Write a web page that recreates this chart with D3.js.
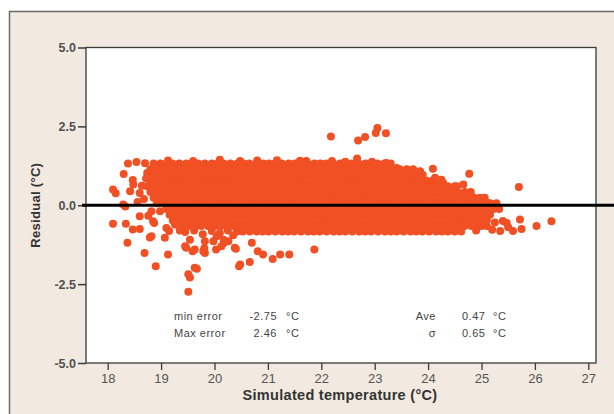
<!DOCTYPE html>
<html>
<head>
<meta charset="utf-8">
<script src="https://cdn.jsdelivr.net/npm/d3@7"></script>
<style>
  body { margin: 0; background: #fff; }
  svg { display: block; }
</style>
</head>
<body>
<div id="chart"></div>
<script>
// dense band: residual of each row and the simulated temperatures read along it
const bandResidual = [1.32, 1.14, 0.96, 0.78, 0.60, 0.42, 0.24, 0.06, -0.12, -0.30, -0.48, -0.66, -0.83]
const bandTemps = [
  [18.86, 18.99, 19.10, 19.21, 19.34, 19.47, 19.58, 19.69, 19.82, 19.95, 20.06, 20.17, 20.30, 20.43, 20.54, 20.65, 20.78, 20.91, 21.02, 21.13, 21.26, 21.39, 21.50, 21.61, 21.74, 21.87, 21.98, 22.09, 22.22, 22.35, 22.46, 22.57, 22.70, 22.83, 22.94, 23.05, 23.18, 23.30],
  [18.80, 18.93, 19.04, 19.15, 19.28, 19.41, 19.52, 19.63, 19.76, 19.89, 20.00, 20.11, 20.24, 20.37, 20.48, 20.59, 20.72, 20.85, 20.96, 21.07, 21.20, 21.33, 21.44, 21.55, 21.68, 21.81, 21.92, 22.03, 22.16, 22.29, 22.40, 22.51, 22.64, 22.77, 22.88, 22.99, 23.12, 23.25, 23.36, 23.47, 23.60, 23.72],
  [18.86, 18.97, 19.10, 19.23, 19.34, 19.45, 19.58, 19.71, 19.82, 19.93, 20.06, 20.19, 20.30, 20.41, 20.54, 20.67, 20.78, 20.89, 21.02, 21.15, 21.26, 21.37, 21.50, 21.63, 21.74, 21.85, 21.98, 22.11, 22.22, 22.33, 22.46, 22.59, 22.70, 22.81, 22.94, 23.07, 23.18, 23.29, 23.42, 23.55, 23.66, 23.77, 23.90],
  [18.80, 18.91, 19.04, 19.17, 19.28, 19.39, 19.52, 19.65, 19.76, 19.87, 20.00, 20.13, 20.24, 20.35, 20.48, 20.61, 20.72, 20.83, 20.96, 21.09, 21.20, 21.31, 21.44, 21.57, 21.68, 21.79, 21.92, 22.05, 22.16, 22.27, 22.40, 22.53, 22.64, 22.75, 22.88, 23.01, 23.12, 23.23, 23.36, 23.49, 23.60, 23.71, 23.84, 23.97, 24.08, 24.20],
  [18.74, 18.87, 18.98, 19.09, 19.22, 19.35, 19.46, 19.57, 19.70, 19.83, 19.94, 20.05, 20.18, 20.31, 20.42, 20.53, 20.66, 20.79, 20.90, 21.01, 21.14, 21.27, 21.38, 21.49, 21.62, 21.75, 21.86, 21.97, 22.10, 22.23, 22.34, 22.45, 22.58, 22.71, 22.82, 22.93, 23.06, 23.19, 23.30, 23.41, 23.54, 23.67, 23.78, 23.89, 24.02, 24.15, 24.26, 24.37, 24.50],
  [18.80, 18.93, 19.04, 19.15, 19.28, 19.41, 19.52, 19.63, 19.76, 19.89, 20.00, 20.11, 20.24, 20.37, 20.48, 20.59, 20.72, 20.85, 20.96, 21.07, 21.20, 21.33, 21.44, 21.55, 21.68, 21.81, 21.92, 22.03, 22.16, 22.29, 22.40, 22.51, 22.64, 22.77, 22.88, 22.99, 23.12, 23.25, 23.36, 23.47, 23.60, 23.73, 23.84, 23.95, 24.08, 24.21, 24.32, 24.43, 24.56, 24.69, 24.80],
  [18.86, 18.97, 19.10, 19.23, 19.34, 19.45, 19.58, 19.71, 19.82, 19.93, 20.06, 20.19, 20.30, 20.41, 20.54, 20.67, 20.78, 20.89, 21.02, 21.15, 21.26, 21.37, 21.50, 21.63, 21.74, 21.85, 21.98, 22.11, 22.22, 22.33, 22.46, 22.59, 22.70, 22.81, 22.94, 23.07, 23.18, 23.29, 23.42, 23.55, 23.66, 23.77, 23.90, 24.03, 24.14, 24.25, 24.38, 24.51, 24.62, 24.73, 24.86, 24.97, 25.06],
  [18.92, 19.05, 19.16, 19.27, 19.40, 19.53, 19.64, 19.75, 19.88, 20.01, 20.12, 20.23, 20.36, 20.49, 20.60, 20.71, 20.84, 20.97, 21.08, 21.19, 21.32, 21.45, 21.56, 21.67, 21.80, 21.93, 22.04, 22.15, 22.28, 22.41, 22.52, 22.63, 22.76, 22.89, 23.00, 23.11, 23.24, 23.37, 23.48, 23.59, 23.72, 23.85, 23.96, 24.07, 24.20, 24.33, 24.44, 24.55, 24.68, 24.81, 24.92, 25.03, 25.16, 25.28],
  [19.10, 19.21, 19.34, 19.47, 19.58, 19.69, 19.82, 19.95, 20.06, 20.17, 20.30, 20.43, 20.54, 20.65, 20.78, 20.91, 21.02, 21.13, 21.26, 21.39, 21.50, 21.61, 21.74, 21.87, 21.98, 22.09, 22.22, 22.35, 22.46, 22.57, 22.70, 22.83, 22.94, 23.05, 23.18, 23.31, 23.42, 23.53, 23.66, 23.79, 23.90, 24.01, 24.14, 24.27, 24.38, 24.49, 24.62, 24.75, 24.86, 24.97, 25.10, 25.22, 25.33],
  [19.16, 19.29, 19.40, 19.51, 19.64, 19.77, 19.88, 19.99, 20.12, 20.25, 20.36, 20.47, 20.60, 20.73, 20.84, 20.95, 21.08, 21.21, 21.32, 21.43, 21.56, 21.69, 21.80, 21.91, 22.04, 22.17, 22.28, 22.39, 22.52, 22.65, 22.76, 22.87, 23.00, 23.13, 23.24, 23.35, 23.48, 23.61, 23.72, 23.83, 23.96, 24.09, 24.20, 24.31, 24.44, 24.57, 24.68, 24.79, 24.92, 25.05, 25.16],
  [19.22, 19.33, 19.46, 19.59, 19.70, 19.81, 19.94, 20.07, 20.18, 20.29, 20.42, 20.55, 20.66, 20.77, 20.90, 21.03, 21.14, 21.25, 21.38, 21.51, 21.62, 21.73, 21.86, 21.99, 22.10, 22.21, 22.34, 22.47, 22.58, 22.69, 22.82, 22.95, 23.06, 23.17, 23.30, 23.43, 23.54, 23.65, 23.78, 23.91, 24.02, 24.13, 24.26, 24.39, 24.50, 24.61, 24.74, 24.87, 24.98, 25.10],
  [19.40, 19.53, 19.64, 19.75, 19.88, 20.01, 20.12, 20.23, 20.36, 20.49, 20.60, 20.71, 20.84, 20.97, 21.08, 21.19, 21.32, 21.45, 21.56, 21.67, 21.80, 21.93, 22.04, 22.15, 22.28, 22.41, 22.52, 22.63, 22.76, 22.89, 23.00, 23.11, 23.24, 23.37, 23.48, 23.59, 23.72, 23.85, 23.96, 24.07, 24.20, 24.33, 24.44, 24.55, 24.68, 24.81, 24.92, 25.00],
  [20.42, 20.53, 20.66, 20.79, 20.90, 21.01, 21.14, 21.27, 21.38, 21.49, 21.62, 21.75, 21.86, 21.97, 22.10, 22.23, 22.34, 22.45, 22.58, 22.71, 22.82, 22.93, 23.06, 23.19, 23.30, 23.41, 23.54, 23.67, 23.78, 23.89, 24.02, 24.15, 24.26, 24.37, 24.50, 24.62]
]

// scattered points around the band [temperature, residual]
const sparsePoints = [
  // above the band
  [22.18, 2.18], [22.69, 2.05], [22.82, 2.16], [23.05, 2.45], [23.02, 2.29], [23.21, 2.28],
  [22.67, 1.48], [24.09, 1.16], [24.77, 1.00], [25.70, 0.58],
  [19.13, 1.42], [19.60, 1.40], [20.10, 1.44], [20.48, 1.40], [20.80, 1.42], [21.17, 1.43],
  [21.60, 1.41], [21.72, 1.40], [22.20, 1.40], [22.45, 1.38], [22.95, 1.38],
  [23.04, 1.29], [23.22, 1.34], [23.41, 1.18], [23.66, 1.03], [23.85, 1.08], [24.13, 0.87],
  [24.28, 0.71], [24.25, 0.81], [24.54, 0.60], [24.66, 0.66], [24.72, 0.34], [24.91, 0.18], [25.10, 0.08],
  // left of the band
  [18.10, 0.50], [18.15, 0.38], [18.30, 0.99], [18.38, 1.32], [18.54, 1.37], [18.70, 1.33],
  [18.47, 0.80], [18.42, 0.44], [18.64, 0.62], [18.74, 1.02], [18.29, 0.02], [18.33, -0.04],
  [18.48, 0.66], [18.60, 0.39], [18.68, 0.20], [18.56, 0.10], [18.72, 0.85],
  [18.60, -0.35], [18.82, -0.19], [18.98, -0.19], [18.85, -0.51], [18.79, -1.02],
  // below the band
  [18.10, -0.59], [18.34, -0.59], [18.37, -1.19], [18.47, -0.77], [18.60, -0.75], [18.69, -1.51],
  [18.90, -1.93], [18.82, -0.98], [18.87, -0.56], [18.76, -0.33], [19.07, -1.03], [19.13, -1.56],
  [19.15, -0.82], [19.10, -0.72], [19.26, -0.61], [19.35, -0.80], [19.45, -0.85], [19.62, -0.80],
  [19.78, -0.92], [19.95, -0.82], [20.10, -0.88], [20.25, -0.80], [20.35, -0.95],
  [19.51, -2.74], [19.51, -2.19], [19.54, -2.29], [19.67, -2.01], [19.63, -1.98],
  [19.47, -1.35], [19.45, -1.30], [19.54, -1.09], [19.59, -1.46], [19.63, -1.40], [19.79, -1.46],
  [19.82, -1.51], [19.81, -1.36], [19.82, -1.14], [19.98, -1.14], [20.04, -0.98], [20.03, -1.40],
  [20.13, -1.30], [20.18, -1.19], [20.17, -1.09], [20.26, -1.14], [20.38, -1.35], [20.40, -1.38],
  [20.46, -1.93], [20.48, -1.88], [20.66, -1.80], [20.70, -1.19], [20.81, -1.46], [20.91, -1.56],
  [21.09, -1.70], [21.23, -1.56], [21.40, -1.56], [21.87, -1.40],
  // right tail
  [24.90, -0.80], [25.10, -0.66], [25.20, -0.78], [25.25, -0.55], [25.35, -0.82], [25.40, -0.50],
  [25.47, -0.56], [25.50, -0.70], [25.59, -0.82], [25.72, -0.45], [25.75, -0.75], [26.03, -0.66],
  [26.31, -0.51]
]

const xTicks = [18, 19, 20, 21, 22, 23, 24, 25, 26, 27]
const yTicks = [-5, -2.5, 0, 2.5, 5]
const errorRows = [['min  error', '-2.75'], ['Max error', '2.46']]
const fitRows = [['Ave', '0.47'], ['σ', '0.65']]
const unit = '°C'

const W = 614, H = 414
const plot = { left: 86, top: 47.5, right: 596, bottom: 363 }
const dotColor = '#f05023'

const points = bandResidual.flatMap((r, i) => bandTemps[i].map(t => [t, r])).concat(sparsePoints)

const x = d3.scaleLinear().domain([17.594, 27.144]).range([plot.left, plot.right])
const y = d3.scaleLinear().domain([-5, 5]).range([plot.bottom, plot.top])

const svg = d3.select('#chart').append('svg')
    .attr('width', W)
    .attr('height', H)
    .style('font-family', '"Liberation Sans", Arial, sans-serif')

// beige panel
svg.append('rect')
    .attr('x', 9.5).attr('y', 11.5)
    .attr('width', W).attr('height', H)
    .attr('fill', '#f2eae0')
    .attr('stroke', '#6b6b6b')
    .attr('stroke-width', 1.5)

svg.append('rect')
    .attr('x', plot.left).attr('y', plot.top)
    .attr('width', plot.right - plot.left).attr('height', plot.bottom - plot.top)
    .attr('fill', '#fff')

svg.append('g')
    .selectAll('circle')
    .data(points).enter()
    .append('circle')
    .attr('cx', d => x(d[0]))
    .attr('cy', d => y(d[1]))
    .attr('r', 4)
    .attr('fill', dotColor)

// plot frame
svg.append('rect')
    .attr('x', plot.left).attr('y', plot.top)
    .attr('width', plot.right - plot.left).attr('height', plot.bottom - plot.top)
    .attr('fill', 'none')
    .attr('stroke', '#3a3a3a')
    .attr('stroke-width', 1.3)

const xAxis = svg.append('g')
    .attr('transform', `translate(0, ${plot.bottom})`)
    .call(d3.axisBottom(x).tickValues(xTicks).tickSize(7).tickPadding(4).tickFormat(d3.format('d')))
xAxis.select('.domain').remove()
xAxis.selectAll('line').attr('stroke', '#3a3a3a').attr('stroke-width', 1.3)
xAxis.selectAll('text').attr('fill', '#555').style('font-size', '13px')

const yAxis = svg.append('g')
    .attr('transform', `translate(${plot.left}, 0)`)
    .call(d3.axisLeft(y).tickValues(yTicks).tickSize(8).tickPadding(2).tickFormat(d3.format('.1f')))
yAxis.select('.domain').remove()
yAxis.selectAll('line').attr('stroke', '#3a3a3a').attr('stroke-width', 1.5)
yAxis.selectAll('text').attr('fill', '#505050').style('font-size', '12.5px').style('font-weight', 'bold')
    .text(d => d3.format('.1f')(d).replace('−', '-'))

// zero line runs past the frame to the page edge
svg.append('line')
    .attr('x1', plot.left - 4).attr('x2', W)
    .attr('y1', y(0)).attr('y2', y(0))
    .attr('stroke', '#000')
    .attr('stroke-width', 3)

svg.append('text')
    .attr('x', 340)
    .attr('y', 400)
    .attr('text-anchor', 'middle')
    .attr('fill', '#333')
    .style('font-size', '14.5px').style('font-weight', 'bold')
    .style('letter-spacing', '0.3px')
    .text('Simulated temperature (°C)')

svg.append('text')
    .attr('transform', `translate(40, ${y(0)}) rotate(-90)`)
    .attr('text-anchor', 'middle')
    .attr('fill', '#333')
    .style('font-size', '13px').style('font-weight', 'bold')
    .style('letter-spacing', '0.3px')
    .text('Residual (°C)')

// statistics boxes
const stats = svg.append('g').attr('fill', '#444').style('font-size', '11px').style('letter-spacing', '0.5px')
errorRows.forEach((row, i) => {
    const by = 320 + i * 17
    stats.append('text').attr('x', 174).attr('y', by).text(row[0])
    stats.append('text').attr('x', 277).attr('y', by).attr('text-anchor', 'end').text(row[1])
    stats.append('text').attr('x', 286).attr('y', by).text(unit)
})
fitRows.forEach((row, i) => {
    const by = 320 + i * 17
    stats.append('text').attr('x', 436).attr('y', by).attr('text-anchor', 'end').text(row[0])
    stats.append('text').attr('x', 462).attr('y', by).text(row[1])
    stats.append('text').attr('x', 493).attr('y', by).text(unit)
})
</script>
</body>
</html>
